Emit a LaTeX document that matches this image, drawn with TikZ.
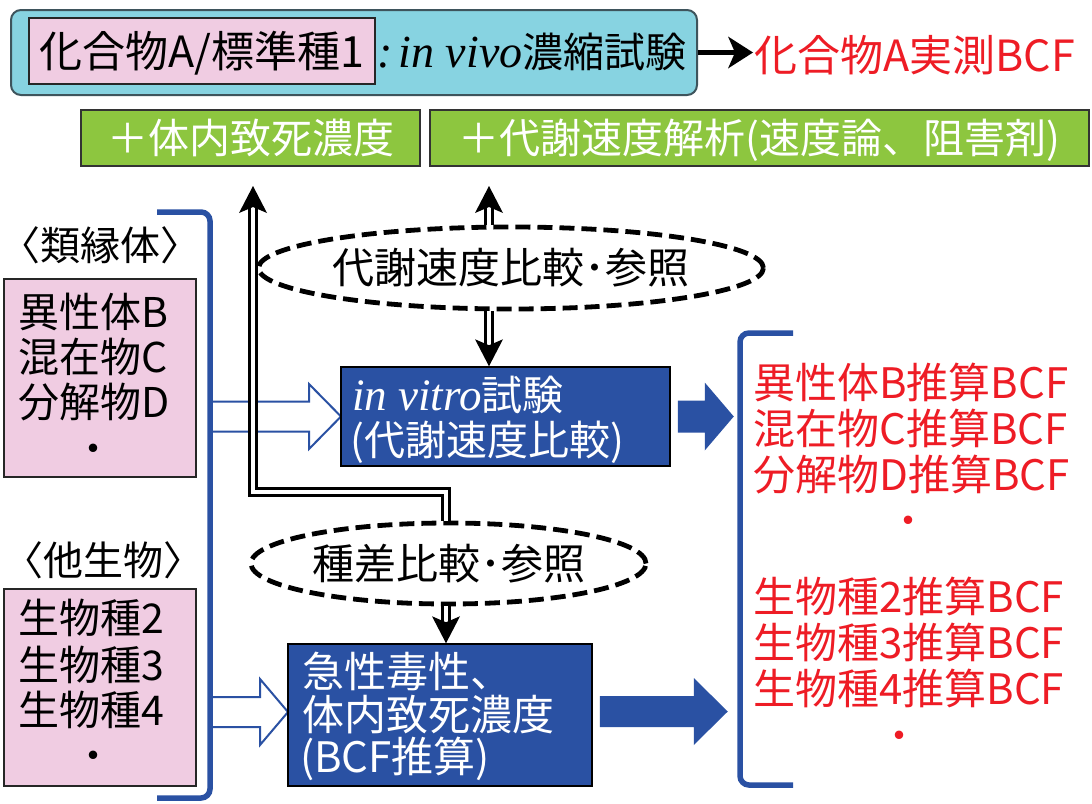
\documentclass[tikz,border=0pt]{standalone}
\usepackage{fontspec}
\setmainfont{Noto Sans CJK JP}
\newfontfamily\serifit{Liberation Serif}
\usetikzlibrary{arrows.meta,shapes.geometric,calc}
\definecolor{cyanf}{HTML}{87D3E1}
\definecolor{cyanline}{HTML}{3E545C}
\definecolor{pinkf}{HTML}{F0CCE2}
\definecolor{greenf}{HTML}{8DC63F}
\definecolor{bluef}{HTML}{2A51A3}
\definecolor{redt}{HTML}{EE1C25}
\newcommand\fsz[1]{\fontsize{#1}{#1}\selectfont}
\begin{document}
\begin{tikzpicture}[x=1pt,y=-1pt,
  tA/.style={inner sep=0pt,font=\fsz{40},text height=34.4pt,text depth=4pt},
  tB/.style={inner sep=0pt,font=\fsz{42},text height=36.1pt,text depth=4.2pt},
  tD/.style={inner sep=0pt,font=\fsz{43},text height=37pt,text depth=4.3pt},
  tE/.style={inner sep=0pt,font=\fsz{41},text height=35.3pt,text depth=4.1pt},
  pinkbox/.style={draw=black!85,fill=pinkf,line width=1.5pt,inner sep=0pt,minimum width=192pt},
  greenbox/.style={tE,draw=black!80,fill=greenf,line width=1.5pt,minimum height=56pt,text=white},
  bluebox/.style={draw=black,fill=bluef,line width=1.5pt,inner sep=0pt},
  dashell/.style={tB,ellipse,draw=black,fill=white,line width=4.8pt,dash pattern=on 15pt off 7pt},
  dbl/.style={draw=black,double=white,line width=2.8pt,double distance=3.8pt},
  hollowarr/.style={draw=bluef,line width=2pt,fill=white,line join=miter},
  brk/.style={draw=bluef,line width=5.5pt,rounded corners=9pt},
  redline/.style={tB,anchor=west,text=redt},
  whiteline/.style={anchor=west,text=white}
]
\fill[white] (0,0) rectangle (1092,803);
\useasboundingbox (0,0) rectangle (1092,803);

% top row
\node[draw=cyanline,fill=cyanf,line width=2pt,rounded corners=10pt,
  minimum width=686pt,minimum height=85pt,inner sep=0pt] (cyan) at (354,52.5) {};
\node[tD,draw=black!85,fill=pinkf,line width=1.5pt,minimum width=346pt,minimum height=66pt] (pinkA) at (202,51) {化合物A/標準種1};
\node[tE,anchor=west] (vivo) at (377,52) {{\serifit\itshape\fontsize{46}{46}\selectfont :\kern6pt in vivo}濃縮試験};
\node[tD,anchor=west,text=redt] (bcfA) at (754,55) {化合物A実測BCF};
\coordinate (tipT) at (cyan.east -| bcfA.west);
\draw[line width=5.5pt] (cyan.east) -- ($(tipT)+(-18,0)$);
\fill ($(tipT)+(-1,0)$) -- ++(-25,-16) -- ++(7,16) -- ++(-7,16) -- cycle;

% green boxes
\node[greenbox,minimum width=339pt] (g1) at (250.5,138) {＋体内致死濃度};
\node[greenbox,minimum width=659pt] (g2) at (759.5,138) {＋代謝速度解析(速度論、阻害剤)};

% left side
\node[tA] (rui) at (101,245) {〈類縁体〉};
\node[pinkbox,minimum height=198pt] (p1) at (100,378) {};
\node[tE,anchor=west] (p1a) at (18,312) {異性体B};
\node[tE,anchor=west] (p1b) at (18,357) {混在物C};
\node[tE,anchor=west] (p1c) at (18,402) {分解物D};
\node[tA] (p1d) at (93,448) {・};
\node[tA] (ta) at (103,560) {〈他生物〉};
\node[pinkbox,minimum height=197pt] (p2) at (100,687.5) {};
\node[tE,anchor=west] (p2a) at (18,618) {生物種2};
\node[tE,anchor=west] (p2b) at (18,665) {生物種3};
\node[tE,anchor=west] (p2c) at (18,710) {生物種4};
\node[tA] (p2d) at (93,755) {・};

% hollow arrows
\draw[hollowarr] (210,401.5) -- (309,401.5) -- (309,384) -- (341,416.5) -- (309,449) -- (309,431.5) -- (210,431.5);
\draw[hollowarr] (210,697) -- (260,697) -- (260,679) -- (288,712) -- (260,745) -- (260,727) -- (210,727);

% left bracket
\draw[brk] (157,212) -- (210,212) -- (210,798) -- (157,798);

% in vitro box
\node[bluebox,minimum width=329pt,minimum height=99pt] (vitro) at (505.5,416.5) {};
\node[tE,whiteline] (vitroa) at (352,395) {{\serifit\itshape\fontsize{45}{45}\selectfont in vitro}試験};
\node[tE,whiteline] (vitrob) at (350,440) {(代謝速度比較)};

% lower box
\node[bluebox,minimum width=304pt,minimum height=142pt] (low) at (440,715) {};
\node[tB,whiteline] (lowa) at (302,672) {急性毒性、};
\node[tB,whiteline] (lowb) at (302,715) {体内致死濃度};
\node[tB,whiteline] (lowc) at (300,757) {(BCF推算)};

% ellipses
\node[dashell,minimum width=444pt,minimum height=82pt] (e1) at (511,268) {代謝速度比較･参照};
\node[dashell,minimum width=395pt,minimum height=81pt] (e2) at (448.5,563.5) {種差比較･参照};

% double connectors (shafts)
\coordinate (upA) at (489,186);
\coordinate (upB) at (253,186);
\coordinate (jn) at (446,492);
\coordinate (dnA) at (upA |- vitro.north);
\coordinate (dnB) at (jn |- low.north);
\draw[dbl] (upA |- e1.north) -- ($(upA)+(0,18)$);
\draw[dbl] (upA |- e1.south) -- ($(dnA)+(0,-18)$);
\draw[dbl] (jn |- e2.north) -- (jn) -- (upB |- jn) -- ($(upB)+(0,18)$);
\draw[dbl] (jn |- e2.south) -- ($(dnB)+(0,-18)$);
% arrow heads
\fill (upA) -- ++(14,27) -- ++(-14,-6) -- ++(-14,6) -- cycle;
\fill (upB) -- ++(14,27) -- ++(-14,-6) -- ++(-14,6) -- cycle;
\fill (dnA) -- ++(14,-27) -- ++(-14,6) -- ++(-14,-6) -- cycle;
\fill (dnB) -- ++(14,-27) -- ++(-14,6) -- ++(-14,-6) -- cycle;

% solid arrows
\begin{scope}[shift={(vitro.east)}]
\fill[bluef] (7,-16) -- (34,-16) -- (34,-34) -- (63,0) -- (34,34) -- (34,16) -- (7,16) -- cycle;
\end{scope}
\begin{scope}[shift={(low.east)}]
\fill[bluef] (7,-19) -- (101,-19) -- (101,-37) -- (135,-3.5) -- (101,30) -- (101,12) -- (7,12) -- cycle;
\end{scope}

% right bracket
\draw[brk] (793,333) -- (740,333) -- (740,785) -- (793,785);

% red results
\node[redline] (r1) at (753,383) {異性体B推算BCF};
\node[redline] (r2) at (753,429) {混在物C推算BCF};
\node[redline] (r3) at (753,475) {分解物D推算BCF};
\node[tA,text=redt] (r4) at (908,520) {・};
\node[redline] (r5) at (753,597) {生物種2推算BCF};
\node[redline] (r6) at (753,643) {生物種3推算BCF};
\node[redline] (r7) at (753,689) {生物種4推算BCF};
\node[tA,text=redt] (r8) at (899,735) {・};
\end{tikzpicture}
\end{document}
